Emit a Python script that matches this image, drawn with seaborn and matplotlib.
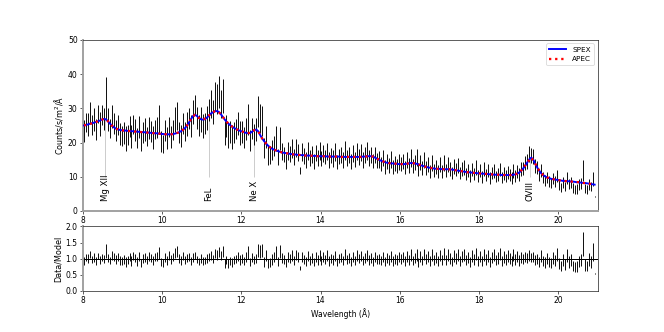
import numpy as np
import matplotlib
matplotlib.use("Agg")
import matplotlib.pyplot as plt
import seaborn as sns

# ---------------- data ----------------
# bin centres (0.05 A bins from 8.0 to 20.95 A)
wave = np.round(np.arange(259) * 0.05 + 8.025, 3)

spex_model = [
    25.0, 25.1, 25.3, 25.5, 25.6, 25.8, 26.0, 26.2, 26.4, 26.7, 26.9, 26.8, 26.3, 25.6, 25.0, 24.5, 24.1, 23.9, 23.7, 23.6,
    23.5, 23.5, 23.4, 23.4, 23.3, 23.3, 23.2, 23.2, 23.1, 23.1, 23.0, 23.0, 22.9, 22.9, 22.8, 22.8, 22.7, 22.7, 22.6, 22.5,
    22.5, 22.4, 22.4, 22.4, 22.4, 22.5, 22.6, 22.8, 23.0, 23.3, 23.7, 24.2, 24.9, 25.8, 26.8, 27.7, 28.1, 27.8, 27.2, 26.8,
    26.7, 26.8, 27.2, 27.8, 28.4, 28.8, 29.1, 29.2, 29.0, 28.4, 27.6, 26.8, 26.1, 25.5, 25.0, 24.6, 24.2, 23.9, 23.6, 23.4,
    23.2, 23.0, 22.8, 22.7, 22.8, 23.2, 23.6, 23.8, 23.3, 22.2, 21.2, 20.4, 19.7, 19.1, 18.6, 18.2, 17.9, 17.7, 17.5, 17.3,
    17.1, 17.0, 16.9, 16.8, 16.7, 16.6, 16.5, 16.5, 16.4, 16.4, 16.3, 16.3, 16.2, 16.2, 16.2, 16.1, 16.1, 16.1, 16.0, 16.0,
    16.0, 16.0, 16.0, 15.9, 15.9, 15.9, 15.9, 15.9, 15.9, 15.9, 15.8, 15.8, 15.8, 15.8, 15.8, 15.8, 15.8, 15.8, 15.8, 15.8,
    15.8, 15.9, 15.9, 16.0, 16.0, 16.0, 15.9, 15.6, 15.3, 15.0, 14.7, 14.5, 14.3, 14.1, 14.0, 13.9, 13.9, 13.8, 13.8, 13.7,
    13.7, 13.7, 13.7, 13.8, 13.9, 14.0, 14.0, 13.9, 13.8, 13.6, 13.4, 13.2, 13.0, 12.9, 12.7, 12.6, 12.5, 12.4, 12.3, 12.3,
    12.3, 12.2, 12.2, 12.2, 12.2, 12.2, 12.1, 12.0, 11.9, 11.8, 11.7, 11.6, 11.5, 11.4, 11.3, 11.3, 11.2, 11.1, 11.1, 11.0,
    11.0, 10.9, 10.9, 10.8, 10.8, 10.7, 10.7, 10.6, 10.6, 10.6, 10.6, 10.5, 10.5, 10.5, 10.5, 10.5, 10.5, 10.6, 10.7, 10.9,
    11.3, 11.8, 12.5, 13.3, 14.2, 15.1, 15.6, 15.0, 13.8, 12.7, 11.8, 11.0, 10.5, 10.1, 9.8, 9.6, 9.4, 9.3, 9.2, 9.1,
    9.0, 8.9, 8.8, 8.8, 8.7, 8.7, 8.6, 8.6, 8.5, 8.4, 8.4, 8.3, 8.2, 8.2, 8.1, 8.0, 7.9, 7.8, 7.7,
]

counts = [
    23.5, 25.9, 25.3, 28.8, 25.1, 26.8, 23.9, 28.3, 25.3, 28.0, 26.9, 33.0, 26.8, 24.1, 27.5, 25.5, 23.6, 25.1, 22.5, 21.9,
    22.8, 21.2, 22.2, 24.6, 21.7, 25.2, 23.7, 21.3, 24.5, 20.3, 23.0, 23.9, 21.8, 24.3, 23.3, 21.4, 23.8, 24.5, 26.7, 20.3,
    19.6, 23.5, 21.3, 24.6, 21.7, 23.6, 26.7, 27.8, 23.0, 21.9, 25.6, 23.2, 25.4, 27.1, 24.9, 28.8, 30.9, 27.2, 25.0, 26.8,
    24.8, 25.5, 27.2, 29.5, 31.2, 28.8, 33.5, 32.7, 34.8, 31.2, 33.7, 22.8, 24.8, 21.9, 23.0, 21.6, 23.0, 23.9, 25.5, 22.7,
    23.2, 21.4, 23.9, 26.8, 20.5, 24.1, 22.4, 23.8, 29.1, 27.1, 26.3, 18.4, 21.7, 16.2, 16.4, 17.8, 19.0, 21.2, 15.8, 21.1,
    17.4, 16.5, 14.5, 17.6, 16.7, 18.3, 15.7, 18.5, 17.1, 11.8, 17.3, 16.0, 14.9, 17.5, 15.4, 16.4, 14.5, 16.9, 15.4, 17.6,
    15.2, 16.8, 15.7, 17.5, 14.8, 16.2, 15.3, 17.2, 14.3, 15.9, 16.4, 14.9, 17.7, 15.5, 16.3, 14.5, 16.7, 15.0, 17.4, 15.8,
    17.1, 14.9, 16.4, 17.6, 15.4, 16.3, 14.6, 16.4, 14.8, 15.0, 13.8, 15.4, 12.9, 14.5, 13.3, 15.0, 12.9, 13.8, 13.2, 14.4,
    13.7, 14.4, 12.7, 14.9, 13.3, 15.4, 13.2, 14.2, 15.5, 12.2, 14.2, 12.5, 14.8, 12.6, 13.7, 11.6, 14.0, 11.9, 12.8, 11.4,
    13.5, 11.6, 14.0, 11.8, 13.7, 12.2, 11.1, 13.0, 12.1, 13.2, 11.0, 12.3, 12.7, 10.9, 11.8, 10.2, 12.1, 10.9, 12.7, 10.2,
    11.7, 10.0, 12.2, 10.6, 11.7, 9.6, 11.1, 11.7, 10.1, 10.8, 12.1, 9.8, 11.0, 10.2, 11.3, 10.5, 9.7, 11.7, 10.3, 11.6,
    10.7, 12.3, 12.3, 14.1, 14.5, 16.6, 16.2, 15.8, 13.2, 12.7, 10.6, 11.9, 9.7, 8.9, 9.8, 8.6, 8.1, 9.5, 8.7, 10.2,
    7.7, 6.9, 8.4, 7.2, 9.6, 7.8, 8.3, 6.7, 6.3, 6.4, 7.7, 7.9, 11.9, 6.6, 6.3, 7.7, 7.1, 9.4, 4.2,
]

count_err = [
    3.2, 2.8, 3.4, 3.0, 2.9, 3.3, 3.1, 2.7, 3.5, 3.0, 3.2, 6.0, 3.3, 2.9, 3.4, 3.0, 3.1, 2.8, 3.3, 3.0,
    3.2, 3.6, 2.9, 3.1, 3.4, 2.8, 3.2, 3.0, 3.3, 2.9, 3.1, 3.4, 2.8, 3.2, 3.0, 3.3, 2.9, 3.1, 4.2, 3.0,
    2.6, 3.1, 3.3, 2.9, 3.2, 3.0, 3.6, 4.0, 3.1, 3.3, 3.0, 2.8, 3.4, 3.1, 3.2, 3.5, 2.9, 3.3, 3.0, 3.6,
    3.4, 3.1, 3.6, 3.3, 4.0, 3.5, 4.2, 4.5, 4.7, 4.0, 5.0, 3.6, 3.3, 3.5, 3.2, 3.4, 3.1, 3.0, 3.3, 3.5,
    3.2, 3.0, 3.3, 4.5, 3.1, 3.2, 3.0, 3.4, 4.6, 4.2, 4.3, 3.0, 3.2, 2.7, 2.6, 2.9, 2.8, 3.6, 2.4, 3.4,
    2.5, 2.3, 2.2, 2.6, 2.4, 2.8, 2.3, 2.6, 2.5, 1.0, 2.6, 2.3, 2.2, 2.6, 2.4, 2.5, 2.2, 2.4, 2.3, 2.6,
    2.2, 2.4, 2.1, 2.5, 2.3, 2.2, 2.4, 2.6, 2.1, 2.3, 2.4, 2.2, 2.7, 2.3, 2.4, 2.1, 2.5, 2.2, 2.6, 2.3,
    2.5, 2.2, 2.4, 2.7, 2.3, 2.4, 2.1, 2.3, 2.2, 2.4, 2.1, 2.3, 2.0, 2.2, 2.1, 2.4, 2.0, 2.2, 2.1, 2.3,
    2.1, 2.2, 2.0, 2.3, 2.1, 2.6, 2.0, 2.2, 2.5, 1.9, 2.2, 2.0, 2.3, 2.0, 2.2, 1.9, 2.3, 1.9, 2.1, 1.9,
    2.2, 1.9, 2.3, 1.9, 2.2, 2.0, 1.8, 2.1, 2.0, 2.2, 1.8, 2.0, 2.1, 1.8, 2.0, 1.7, 2.0, 1.8, 2.1, 1.7,
    1.9, 1.7, 2.0, 1.8, 1.9, 1.7, 1.8, 2.0, 1.7, 1.9, 2.0, 1.7, 1.9, 1.7, 1.9, 1.8, 1.7, 2.0, 1.8, 1.9,
    1.8, 2.0, 1.9, 2.1, 2.2, 2.4, 2.3, 2.2, 2.0, 2.0, 1.8, 1.9, 1.6, 1.6, 1.7, 1.6, 1.5, 1.7, 1.6, 1.8,
    1.5, 1.4, 1.6, 1.4, 1.7, 1.5, 1.6, 1.4, 1.3, 1.4, 1.5, 1.6, 3.0, 1.4, 1.3, 1.6, 1.4, 2.1, 0.1,
]

# APEC model sampled every 0.1 A
apec_wave = np.round(np.arange(130) * 0.1 + 8.025, 3)
apec_model = [
    25.0, 25.3, 25.6, 26.0, 26.4, 26.9, 26.3, 25.0, 24.1, 23.7,
    23.5, 23.4, 23.3, 23.2, 23.1, 23.0, 22.9, 22.8, 22.7, 22.6,
    22.5, 22.4, 22.4, 22.6, 23.0, 23.7, 24.9, 26.8, 28.1, 27.2,
    26.7, 27.2, 28.4, 29.1, 29.0, 27.6, 26.1, 25.0, 24.2, 23.6,
    23.2, 22.8, 22.8, 23.6, 23.3, 21.2, 19.7, 18.6, 17.9, 17.5,
    17.1, 16.9, 16.7, 16.5, 16.4, 16.3, 16.2, 16.2, 16.1, 16.0,
    16.0, 16.0, 15.9, 15.9, 15.9, 15.8, 15.8, 15.8, 15.8, 15.8,
    15.8, 15.9, 16.0, 15.9, 15.3, 14.7, 14.3, 14.0, 13.9, 13.8,
    13.7, 13.7, 13.9, 14.0, 13.8, 13.4, 13.0, 12.7, 12.5, 12.3,
    12.3, 12.2, 12.2, 12.1, 11.9, 11.7, 11.5, 11.3, 11.2, 11.1,
    11.0, 10.9, 10.8, 10.7, 10.6, 10.6, 10.5, 10.5, 10.5, 10.7,
    11.3, 12.5, 14.2, 15.6, 13.8, 11.8, 10.5, 9.8, 9.4, 9.2,
    9.0, 8.8, 8.7, 8.6, 8.5, 8.4, 8.2, 8.1, 7.9, 7.7,
]

line_names = ["Mg XII", "FeL", "Ne X", "OVIII"]
line_wave = [8.56, 11.18, 12.33, 19.30]
line_top = [26.9, 28.4, 23.8, 15.5]

# ---------------- figure ----------------
fig = plt.figure(figsize=(12, 6), dpi=664 / 12)
ax1 = fig.add_axes([0.125, 0.3645, 0.775, 0.5155])
ax2 = fig.add_axes([0.125, 0.1235, 0.775, 0.1945])

counts_a = np.array(counts)
err_a = np.array(count_err)
model_a = np.array(spex_model)

# line markers
ax1.vlines(line_wave, 10, line_top, color="0.75", lw=1.0, zorder=0)
for name, lw_ in zip(line_names, line_wave):
    ax1.text(lw_, 3.0, name, rotation=90, ha="center", va="bottom", fontsize=11)

ax1.errorbar(wave, counts_a, yerr=err_a, fmt="none", ecolor="black", elinewidth=1.2, zorder=2)
sns.lineplot(x=wave, y=spex_model, ax=ax1, color="blue", lw=2.5, label="SPEX", zorder=3)
sns.lineplot(x=apec_wave, y=apec_model, ax=ax1, color="red", lw=3, linestyle=":", label="APEC", zorder=4)

ax1.set_xlim(8, 21)
ax1.set_ylim(0, 50)
ax1.set_ylabel("Counts/s/m$^2$/Å", fontsize=10.5)
ax1.legend(loc="upper right", fontsize=9.5, handlelength=2.3)

ratio = counts_a / model_a
ratio_err = err_a / model_a
ax2.axhline(1.0, color="black", lw=1.3, zorder=1)
ax2.errorbar(wave, ratio, yerr=ratio_err, fmt="none", ecolor="black", elinewidth=1.2, zorder=2)
ax2.set_xlim(8, 21)
ax2.set_ylim(0, 2)
ax2.set_yticks([0, 0.5, 1.0, 1.5, 2.0])
ax2.set_ylabel("Data/Model", fontsize=10.5)
ax2.set_xlabel("Wavelength (Å)")

for ax in (ax1, ax2):
    ax.set_xticks([8, 10, 12, 14, 16, 18, 20])
    ax.spines["left"].set_color("#a0a0a0")
    ax.spines["left"].set_linewidth(2.5)
ax1.spines["bottom"].set_color("#a0a0a0")
ax1.spines["bottom"].set_linewidth(2.5)

fig.savefig("out.png", dpi=664 / 12)
